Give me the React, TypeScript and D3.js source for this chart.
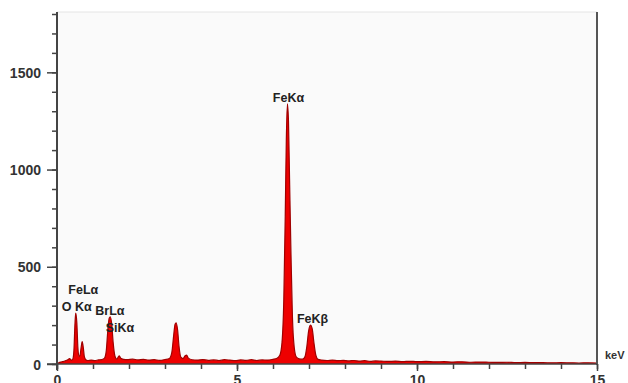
import { useEffect, useRef } from 'react'
import * as d3 from 'd3'

// spectrum: [keV, counts]
const SPECTRUM: [number, number][] = [
  [0.0, 0], [0.05, 6], [0.1, 10], [0.15, 12], [0.2, 14], [0.25, 18], [0.3, 22], [0.35, 28],
  [0.4, 20], [0.44, 26], [0.47, 70], [0.5, 210], [0.52, 262], [0.55, 215], [0.58, 85],
  [0.61, 38], [0.64, 45], [0.67, 85], [0.7, 115], [0.73, 85], [0.76, 38], [0.8, 22],
  [0.85, 18], [0.95, 20], [1.05, 17], [1.15, 21], [1.25, 23], [1.32, 30], [1.37, 70],
  [1.41, 170], [1.45, 235], [1.48, 243], [1.52, 205], [1.56, 110], [1.61, 40], [1.66, 25],
  [1.7, 35], [1.73, 42], [1.77, 30], [1.85, 24], [1.95, 22], [2.1, 25], [2.25, 21],
  [2.4, 24], [2.55, 20], [2.7, 22], [2.85, 19], [3.0, 23], [3.12, 28], [3.19, 60],
  [3.24, 145], [3.28, 205], [3.31, 212], [3.35, 175], [3.39, 90], [3.44, 35], [3.5, 28],
  [3.56, 42], [3.6, 46], [3.65, 30], [3.75, 22], [3.9, 20], [4.05, 23], [4.2, 19],
  [4.35, 21], [4.5, 18], [4.65, 22], [4.8, 20], [4.95, 17], [5.1, 21], [5.25, 19],
  [5.4, 22], [5.55, 18], [5.7, 21], [5.85, 20], [6.0, 24], [6.1, 28], [6.19, 45],
  [6.25, 110], [6.3, 330], [6.34, 760], [6.37, 1150], [6.4, 1338], [6.43, 1250],
  [6.46, 950], [6.5, 560], [6.54, 240], [6.59, 85], [6.65, 35], [6.73, 26], [6.82, 25],
  [6.89, 38], [6.94, 90], [6.99, 170], [7.04, 200], [7.09, 180], [7.14, 105], [7.19, 45],
  [7.25, 24], [7.35, 20], [7.5, 18], [7.65, 20], [7.8, 17], [7.95, 19], [8.1, 16],
  [8.25, 18], [8.4, 15], [8.55, 17], [8.7, 14], [8.85, 16], [9.0, 15], [9.2, 13],
  [9.4, 15], [9.6, 12], [9.8, 14], [10.0, 12], [10.25, 13], [10.5, 11], [10.75, 12],
  [11.0, 10], [11.25, 11], [11.5, 9], [11.75, 10], [12.0, 9], [12.25, 8], [12.5, 9],
  [12.75, 7], [13.0, 8], [13.25, 7], [13.5, 7], [13.75, 6], [14.0, 7], [14.25, 6],
  [14.5, 5], [14.75, 6], [15.0, 5],
]

// peak labels: text, centre keV, counts at text baseline
const PEAK_LABELS: { text: string; kev: number; counts: number }[] = [
  { text: 'FeKα', kev: 6.43, counts: 1350 },
  { text: 'FeKβ', kev: 7.1, counts: 212 },
  { text: 'FeLα', kev: 0.73, counts: 360 },
  { text: 'O Kα', kev: 0.55, counts: 275 },
  { text: 'BrLα', kev: 1.47, counts: 250 },
  { text: 'SiKα', kev: 1.75, counts: 165 },
]

const X_LABELS = [0, 5, 10, 15]
const Y_LABELS = [0, 500, 1000, 1500]

const W = 628
const H = 383
const margin = { top: 14, right: 31, bottom: 19, left: 57 }

export default function App() {
  const ref = useRef<SVGSVGElement>(null)

  useEffect(() => {
    const svg = d3.select(ref.current!)
    svg.selectAll('*').remove()

    const iw = W - margin.left - margin.right
    const ih = H - margin.top - margin.bottom
    const x = d3.scaleLinear().domain([0, 15]).range([0, iw])
    const y = d3.scaleLinear().domain([0, 1800]).range([ih, 0])

    svg.append('rect').attr('width', W).attr('height', H).attr('fill', '#ffffff')
    const g = svg.append('g').attr('transform', `translate(${margin.left},${margin.top})`)

    // plot background + faint top frame
    g.append('rect').attr('x', 0).attr('y', -2).attr('width', iw).attr('height', ih + 2)
      .attr('fill', '#fafafa')
    g.append('line').attr('x1', 0).attr('x2', iw).attr('y1', -2).attr('y2', -2)
      .attr('stroke', '#e4e4e4').attr('stroke-width', 1)

    // spectrum
    const area = d3.area<[number, number]>()
      .x(d => x(d[0])).y0(y(0)).y1(d => y(d[1])).curve(d3.curveMonotoneX)
    const line = d3.line<[number, number]>()
      .x(d => x(d[0])).y(d => y(d[1])).curve(d3.curveMonotoneX)
    g.append('path').datum(SPECTRUM).attr('d', area).attr('fill', '#ee0000')
    g.append('path').datum(SPECTRUM).attr('d', line).attr('fill', 'none')
      .attr('stroke', '#a00000').attr('stroke-width', 1.2)

    // right border
    g.append('line').attr('x1', iw).attr('x2', iw).attr('y1', -2).attr('y2', ih + 1)
      .attr('stroke', '#555').attr('stroke-width', 2)

    const font = 'Arial, "Liberation Sans", sans-serif'

    // y axis: minor every 100, labels every 500
    g.append('g')
      .call(d3.axisLeft(y).tickValues(d3.range(0, 1801, 100)).tickSize(5).tickFormat(() => ''))
      .call(ag => {
        ag.select('.domain').remove()
        ag.selectAll('line').attr('stroke', '#444').attr('stroke-width', 1.5)
      })
    g.append('g')
      .call(d3.axisLeft(y).tickValues(Y_LABELS).tickSize(10).tickPadding(6).tickFormat(d => `${d}`))
      .call(ag => {
        ag.select('.domain').remove()
        ag.selectAll('line').attr('stroke', '#444').attr('stroke-width', 1.5)
        ag.selectAll('text').attr('fill', '#333').attr('font-size', 14)
          .attr('font-weight', 'bold').attr('font-family', font).attr('dy', '0.36em')
      })
    g.append('line').attr('x1', 0).attr('x2', 0).attr('y1', -2).attr('y2', ih + 6)
      .attr('stroke', '#444').attr('stroke-width', 2)

    // x axis: ticks every 1 keV
    g.append('g').attr('transform', `translate(0,${ih})`)
      .call(d3.axisBottom(x).tickValues(d3.range(0, 16, 1)).tickSize(5).tickFormat(() => ''))
      .call(ag => {
        ag.select('.domain').remove()
        ag.selectAll('line').attr('stroke', '#444').attr('stroke-width', 1.5)
      })
    g.append('g').attr('transform', `translate(0,${ih})`)
      .call(d3.axisBottom(x).tickValues(X_LABELS).tickSize(7).tickPadding(4).tickFormat(d => `${d}`))
      .call(ag => {
        ag.select('.domain').remove()
        ag.selectAll('line').attr('stroke', '#444').attr('stroke-width', 1.5)
        ag.selectAll('text').attr('fill', '#333').attr('font-size', 14)
          .attr('font-weight', 'bold').attr('font-family', font)
      })
    g.append('line').attr('x1', -10).attr('x2', iw).attr('y1', ih).attr('y2', ih)
      .attr('stroke', '#444').attr('stroke-width', 1.5)

    g.append('text').attr('x', iw + 8).attr('y', ih - 5)
      .attr('fill', '#333').attr('font-size', 11).attr('font-weight', 'bold')
      .attr('font-family', font).text('keV')

    // peak labels
    g.selectAll('text.peak').data(PEAK_LABELS).enter().append('text')
      .attr('class', 'peak')
      .attr('x', d => x(d.kev)).attr('y', d => y(d.counts))
      .attr('text-anchor', 'middle').attr('fill', '#222')
      .attr('font-size', 12.5).attr('font-weight', 'bold').attr('font-family', font)
      .text(d => d.text)
  }, [])

  return (
    <svg ref={ref} width={W} height={H}
      style={{ position: 'fixed', left: 0, top: 0, display: 'block' }} />
  )
}
